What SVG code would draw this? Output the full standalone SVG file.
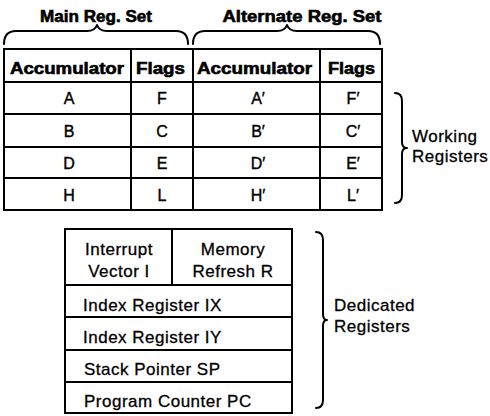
<svg xmlns="http://www.w3.org/2000/svg" width="490" height="416" viewBox="0 0 490 416">
<style>
.cell{fill:#fff;stroke:#000;stroke-width:2}
.t{font-family:"Liberation Sans",Arial,sans-serif;font-size:17px;letter-spacing:0.5px;fill:#000;stroke:#000;stroke-width:0.3}
.c{font-family:"Liberation Sans",Arial,sans-serif;font-size:16px;fill:#000;stroke:#000;stroke-width:0.4;text-anchor:middle}
.h{font-family:"Liberation Sans",Arial,sans-serif;font-size:16px;font-weight:bold;fill:#000;stroke:#000;stroke-width:0.6;text-anchor:middle}
.m{text-anchor:middle}
.br{fill:none;stroke:#000;stroke-width:2;stroke-linecap:round;stroke-linejoin:round}
</style>
<rect width="490" height="416" fill="#fff"/>

<g id="title-main"><text class="h" x="96" y="22" textLength="112" lengthAdjust="spacingAndGlyphs">Main Reg. Set</text></g>
<g id="title-alt"><text class="h" x="302" y="22" textLength="159" lengthAdjust="spacingAndGlyphs">Alternate Reg. Set</text></g>

<g id="hdr-main-acc"><rect class="cell" x="4" y="49" width="127" height="33"/><text class="h" x="67" y="74" textLength="114" lengthAdjust="spacingAndGlyphs">Accumulator</text></g>
<g id="hdr-main-flags"><rect class="cell" x="131" y="49" width="62" height="33"/><text class="h" x="160.5" y="74" textLength="49" lengthAdjust="spacingAndGlyphs">Flags</text></g>
<g id="hdr-alt-acc"><rect class="cell" x="193" y="49" width="127" height="33"/><text class="h" x="254.5" y="74" textLength="115" lengthAdjust="spacingAndGlyphs">Accumulator</text></g>
<g id="hdr-alt-flags"><rect class="cell" x="320" y="49" width="62" height="33"/><text class="h" x="351.5" y="74" textLength="47" lengthAdjust="spacingAndGlyphs">Flags</text></g>

<g id="reg-A"><rect class="cell" x="4" y="82" width="127" height="32"/><text class="c" x="69" y="104">A</text></g>
<g id="reg-F"><rect class="cell" x="131" y="82" width="62" height="32"/><text class="c" x="162" y="104">F</text></g>
<g id="reg-A2"><rect class="cell" x="193" y="82" width="127" height="32"/><text class="c" x="258" y="104">A′</text></g>
<g id="reg-F2"><rect class="cell" x="320" y="82" width="62" height="32"/><text class="c" x="353" y="104">F′</text></g>

<g id="reg-B"><rect class="cell" x="4" y="114" width="127" height="33"/><text class="c" x="69" y="137">B</text></g>
<g id="reg-C"><rect class="cell" x="131" y="114" width="62" height="33"/><text class="c" x="162" y="137">C</text></g>
<g id="reg-B2"><rect class="cell" x="193" y="114" width="127" height="33"/><text class="c" x="258" y="137">B′</text></g>
<g id="reg-C2"><rect class="cell" x="320" y="114" width="62" height="33"/><text class="c" x="353" y="137">C′</text></g>

<g id="reg-D"><rect class="cell" x="4" y="147" width="127" height="31"/><text class="c" x="69" y="169">D</text></g>
<g id="reg-E"><rect class="cell" x="131" y="147" width="62" height="31"/><text class="c" x="162" y="169">E</text></g>
<g id="reg-D2"><rect class="cell" x="193" y="147" width="127" height="31"/><text class="c" x="258" y="169">D′</text></g>
<g id="reg-E2"><rect class="cell" x="320" y="147" width="62" height="31"/><text class="c" x="353" y="169">E′</text></g>

<g id="reg-H"><rect class="cell" x="4" y="178" width="127" height="32"/><text class="c" x="69" y="201">H</text></g>
<g id="reg-L"><rect class="cell" x="131" y="178" width="62" height="32"/><text class="c" x="162" y="201">L</text></g>
<g id="reg-H2"><rect class="cell" x="193" y="178" width="127" height="32"/><text class="c" x="258" y="201">H′</text></g>
<g id="reg-L2"><rect class="cell" x="320" y="178" width="62" height="32"/><text class="c" x="353" y="201">L′</text></g>

<g id="label-working"><text class="t" x="412" y="142">Working</text><text class="t" x="412" y="162">Registers</text></g>

<g id="reg-I"><rect class="cell" x="65" y="229" width="107" height="56"/><text class="t m" x="119" y="255">Interrupt</text><text class="t m" x="119" y="277">Vector I</text></g>
<g id="reg-R"><rect class="cell" x="172" y="229" width="120" height="56"/><text class="t m" x="233" y="255">Memory</text><text class="t m" x="233" y="277">Refresh R</text></g>
<g id="reg-IX"><rect class="cell" x="65" y="285" width="227" height="32"/><text class="t" x="83" y="311">Index Register IX</text></g>
<g id="reg-IY"><rect class="cell" x="65" y="317" width="227" height="33"/><text class="t" x="83" y="343">Index Register IY</text></g>
<g id="reg-SP"><rect class="cell" x="65" y="350" width="227" height="32"/><text class="t" x="84" y="375">Stack Pointer SP</text></g>
<g id="reg-PC"><rect class="cell" x="65" y="382" width="227" height="31"/><text class="t" x="84" y="407">Program Counter PC</text></g>

<g id="label-dedicated"><text class="t" x="334" y="311">Dedicated</text><text class="t" x="334" y="332">Registers</text></g>

<g id="connectors">
<path class="br" d="M4,44 Q4,31 16,31 L87,31 Q95,31 97,25 Q99,31 107,31 L176,31 Q188,31 188,44"/>
<path class="br" d="M193,44 Q193,31 205,31 L277,31 Q285,31 287,25 Q289,31 297,31 L368,31 Q380,31 380,44"/>
<path class="br" d="M395,93 Q402,93 402,101 L402,142 Q402,148 407,148 Q402,148 402,154 L402,195 Q402,203 395,203"/>
<path class="br" d="M316,232 Q323,232 323,240 L323,314 Q323,320 327,320 Q323,320 323,326 L323,400 Q323,408 316,408"/>
</g>
</svg>
